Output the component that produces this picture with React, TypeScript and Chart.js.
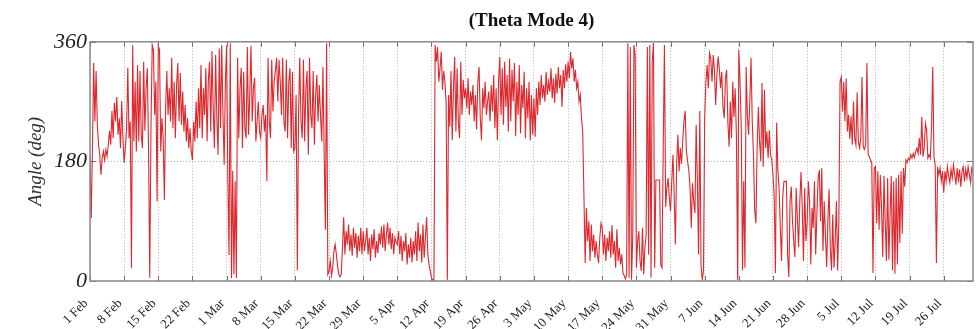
import React, { useEffect, useRef } from 'react';
import { Chart, registerables } from 'chart.js';

Chart.register(...registerables);

// Week tick labels (x axis, one every 7 days starting 1 Feb)
const weekLabels = [
  '1 Feb', '8 Feb', '15 Feb', '22 Feb', '1 Mar', '8 Mar', '15 Mar', '22 Mar',
  '29 Mar', '5 Apr', '12 Apr', '19 Apr', '26 Apr', '3 May', '10 May', '17 May',
  '24 May', '31 May', '7 Jun', '14 Jun', '21 Jun', '28 Jun', '5 Jul', '12 Jul',
  '19 Jul', '26 Jul',
];

const yTicks = [0, 180, 360];
const sampleStepDays = 0.25; // 4 samples per day
const lastDay = 181; // 1 Aug

// Angle (deg) samples, one week per array, 4 samples per day
const w01Feb = [185,95,200,328,240,316,235,205,190,160,185,195,182,198,188,205,226,205,256,215,268,240,277,220,245,200,271,215];
const w08Feb = [178,200,230,321,215,240,20,355,210,300,195,325,210,316,220,200,330,226,290,320,200,5,230,355,348,250,300,120];
const w15Feb = [354,348,195,245,215,122,260,316,250,290,240,336,230,300,215,295,328,240,313,235,285,225,265,210,245,200,230,195];
const w22Feb = [182,240,210,270,215,290,230,325,215,290,250,320,210,300,330,225,346,260,200,340,245,190,350,230,355,250,175,300];
const w01Mar = [354,155,39,358,4,166,10,150,4,336,215,290,321,200,315,230,215,352,220,280,354,240,290,306,210,240,270,225];
const w08Mar = [215,250,265,225,250,150,336,240,215,333,255,300,316,336,270,333,300,250,336,240,225,333,215,300,320,200,315,195];
const w15Mar = [200,280,16,250,336,240,215,333,210,290,316,190,336,250,230,316,205,280,310,240,295,250,210,322,190,77,358,10];
const w22Mar = [15,30,8,20,45,55,40,22,10,6,10,50,96,40,75,55,85,45,70,38,80,50,72,35,68,45,80,40];
const w29Mar = [75,45,60,80,40,65,30,70,48,78,35,60,42,72,55,82,50,85,45,70,88,55,80,48,72,40,65,58];
const w05Apr = [55,75,40,68,30,60,45,72,25,55,35,65,28,60,40,75,30,88,45,70,28,85,35,65,96,40,25,15];
const w12Apr = [5,2,0,355,330,352,300,320,345,288,316,300,268,2,280,232,316,212,290,337,225,320,240,215,330,250,303,275];
const w19Apr = [290,260,305,250,285,265,295,240,280,228,300,322,245,212,290,260,300,250,270,285,240,295,255,310,230,290,212,300];
const w26Apr = [337,250,320,235,330,262,310,225,335,240,318,270,328,218,300,250,325,222,295,260,315,215,290,245,300,212,280,220];
const w03May = [275,217,290,250,300,265,310,275,295,270,315,280,300,285,320,275,305,268,312,282,322,290,310,262,318,290,326,300];
const w10May = [330,305,345,320,335,300,318,290,300,270,280,245,225,127,27,110,60,90,30,85,45,70,35,60,40,27,65,87];
const w17May = [80,40,70,30,65,45,75,35,84,40,60,20,78,30,50,25,40,12,8,3,10,358,5,352,2,65,355,340];
const w24May = [20,60,75,30,15,80,10,50,70,352,40,355,5,330,358,20,152,152,152,152,24,20,200,355,111,140,155,125];
const w31May = [105,150,190,130,55,175,220,165,200,176,211,240,256,196,180,166,140,80,147,120,102,235,150,40,256,24,2,15];
const w07Jun = [246,300,325,290,343,335,300,340,318,265,310,338,320,290,315,262,245,305,318,240,202,270,215,300,247,290,220,2];
const w14Jun = [348,300,230,16,150,20,322,250,220,270,336,240,190,107,87,200,262,210,180,298,172,288,200,225,185,227,190,182];
const w21Jun = [160,127,12,238,167,140,81,30,127,150,150,150,40,6,120,142,90,60,36,140,95,51,120,164,110,30,140,60];
const w28Jun = [90,150,120,25,110,80,150,40,100,155,167,90,170,45,120,70,21,90,138,50,16,100,20,60,120,16,90,300];
const w05Jul = [307,255,300,240,305,225,250,214,248,205,270,215,205,284,210,200,215,307,202,198,205,328,190,187,182,178,12,170];
const w12Jul = [172,87,165,77,160,111,36,158,90,30,155,32,100,158,16,150,11,155,25,160,57,165,71,170,142,182,178,185];
const w19Jul = [182,190,185,192,186,195,200,192,215,190,247,187,200,237,227,185,190,185,230,322,187,175,27,172,160,170,150,165];
const w26Jul = [133,165,150,172,158,148,168,155,175,160,145,170,152,168,142,165,172,150,168,155,172,160,148,170,165];

const angleSeries = [
  ...w01Feb, ...w08Feb, ...w15Feb, ...w22Feb, ...w01Mar, ...w08Mar, ...w15Mar,
  ...w22Mar, ...w29Mar, ...w05Apr, ...w12Apr, ...w19Apr, ...w26Apr, ...w03May,
  ...w10May, ...w17May, ...w24May, ...w31May, ...w07Jun, ...w14Jun, ...w21Jun,
  ...w28Jun, ...w05Jul, ...w12Jul, ...w19Jul, ...w26Jul,
];

const SERIF = "'Liberation Serif', 'Times New Roman', Times, serif";

export default function App() {
  const canvasRef = useRef<HTMLCanvasElement | null>(null);

  useEffect(() => {
    const canvas = canvasRef.current;
    if (!canvas) return;
    const points = angleSeries.map((v, i) => ({ x: i * sampleStepDays, y: v }));

    const framePlugin = {
      id: 'frameAndInwardTicks',
      afterDatasetsDraw(chart: any) {
        const { ctx, chartArea } = chart;
        const { left, right, top, bottom } = chartArea;
        const xs = chart.scales.x;
        const ys = chart.scales.y;
        ctx.save();
        ctx.strokeStyle = '#6f6f6f';
        ctx.lineWidth = 1;
        ctx.beginPath();
        for (let i = 0; i < xs.ticks.length; i++) {
          const px = Math.round(xs.getPixelForTick(i)) + 0.5;
          ctx.moveTo(px, bottom);
          ctx.lineTo(px, bottom - 5);
          ctx.moveTo(px, top);
          ctx.lineTo(px, top + 5);
        }
        for (let i = 0; i < ys.ticks.length; i++) {
          const py = Math.round(ys.getPixelForTick(i)) + 0.5;
          ctx.moveTo(left, py);
          ctx.lineTo(left + 6, py);
          ctx.moveTo(right, py);
          ctx.lineTo(right - 6, py);
        }
        ctx.stroke();
        ctx.strokeStyle = '#8a8a8a';
        ctx.lineWidth = 1.5;
        ctx.strokeRect(left, top, right - left, bottom - top);
        ctx.restore();
      },
    };

    const chart = new Chart(canvas, {
      type: 'line',
      data: {
        datasets: [
          {
            data: points,
            borderColor: 'rgb(221, 40, 46)',
            borderWidth: 1.1,
            pointRadius: 0,
            tension: 0,
            fill: false,
          },
        ],
      },
      options: {
        animation: false,
        responsive: false,
        maintainAspectRatio: false,
        parsing: false as any,
        normalized: true,
        layout: { padding: { left: 0, right: 6, top: 0, bottom: 0 } },
        plugins: {
          legend: { display: false },
          tooltip: { enabled: false },
          title: {
            display: true,
            text: '(Theta Mode 4)',
            fullSize: false,
            color: '#111',
            font: { family: SERIF, size: 19, weight: 'bold' },
            padding: { top: 10, bottom: 9 },
          },
        },
        scales: {
          x: {
            type: 'linear',
            min: 0,
            max: lastDay,
            afterFit: (s: any) => {
              s.height = 48;
            },
            ticks: {
              stepSize: 7,
              includeBounds: false,
              autoSkip: false,
              minRotation: 45,
              maxRotation: 45,
              padding: 15,
              labelOffset: -4,
              color: '#222',
              font: { family: SERIF, size: 13 },
              callback: (v: any) => weekLabels[Math.round(Number(v) / 7)] ?? '',
            },
            grid: { color: '#b4b4b4', lineWidth: 1, drawTicks: false },
            border: { display: false, dash: [1, 2] },
          },
          y: {
            min: 0,
            max: 360,
            afterFit: (s: any) => {
              s.width = 90;
            },
            afterBuildTicks: (s: any) => {
              s.ticks = yTicks.map((value) => ({ value }));
            },
            ticks: {
              padding: 3,
              color: '#222',
              font: { family: SERIF, size: 22, style: 'italic' },
            },
            grid: { color: '#b4b4b4', lineWidth: 1, drawTicks: false },
            border: { display: false, dash: [1, 2] },
            title: {
              display: true,
              text: 'Angle (deg)',
              color: '#333',
              font: { family: SERIF, size: 19, style: 'italic' },
              padding: { top: 25, bottom: 0 },
            },
          },
        },
      } as any,
      plugins: [framePlugin],
    });

    return () => {
      chart.destroy();
    };
  }, []);

  return (
    <div
      style={{
        position: 'fixed',
        left: 0,
        top: 0,
        width: 979,
        height: 329,
        background: '#ffffff',
      }}
    >
      <canvas ref={canvasRef} width={979} height={329} style={{ display: 'block' }} />
    </div>
  );
}
